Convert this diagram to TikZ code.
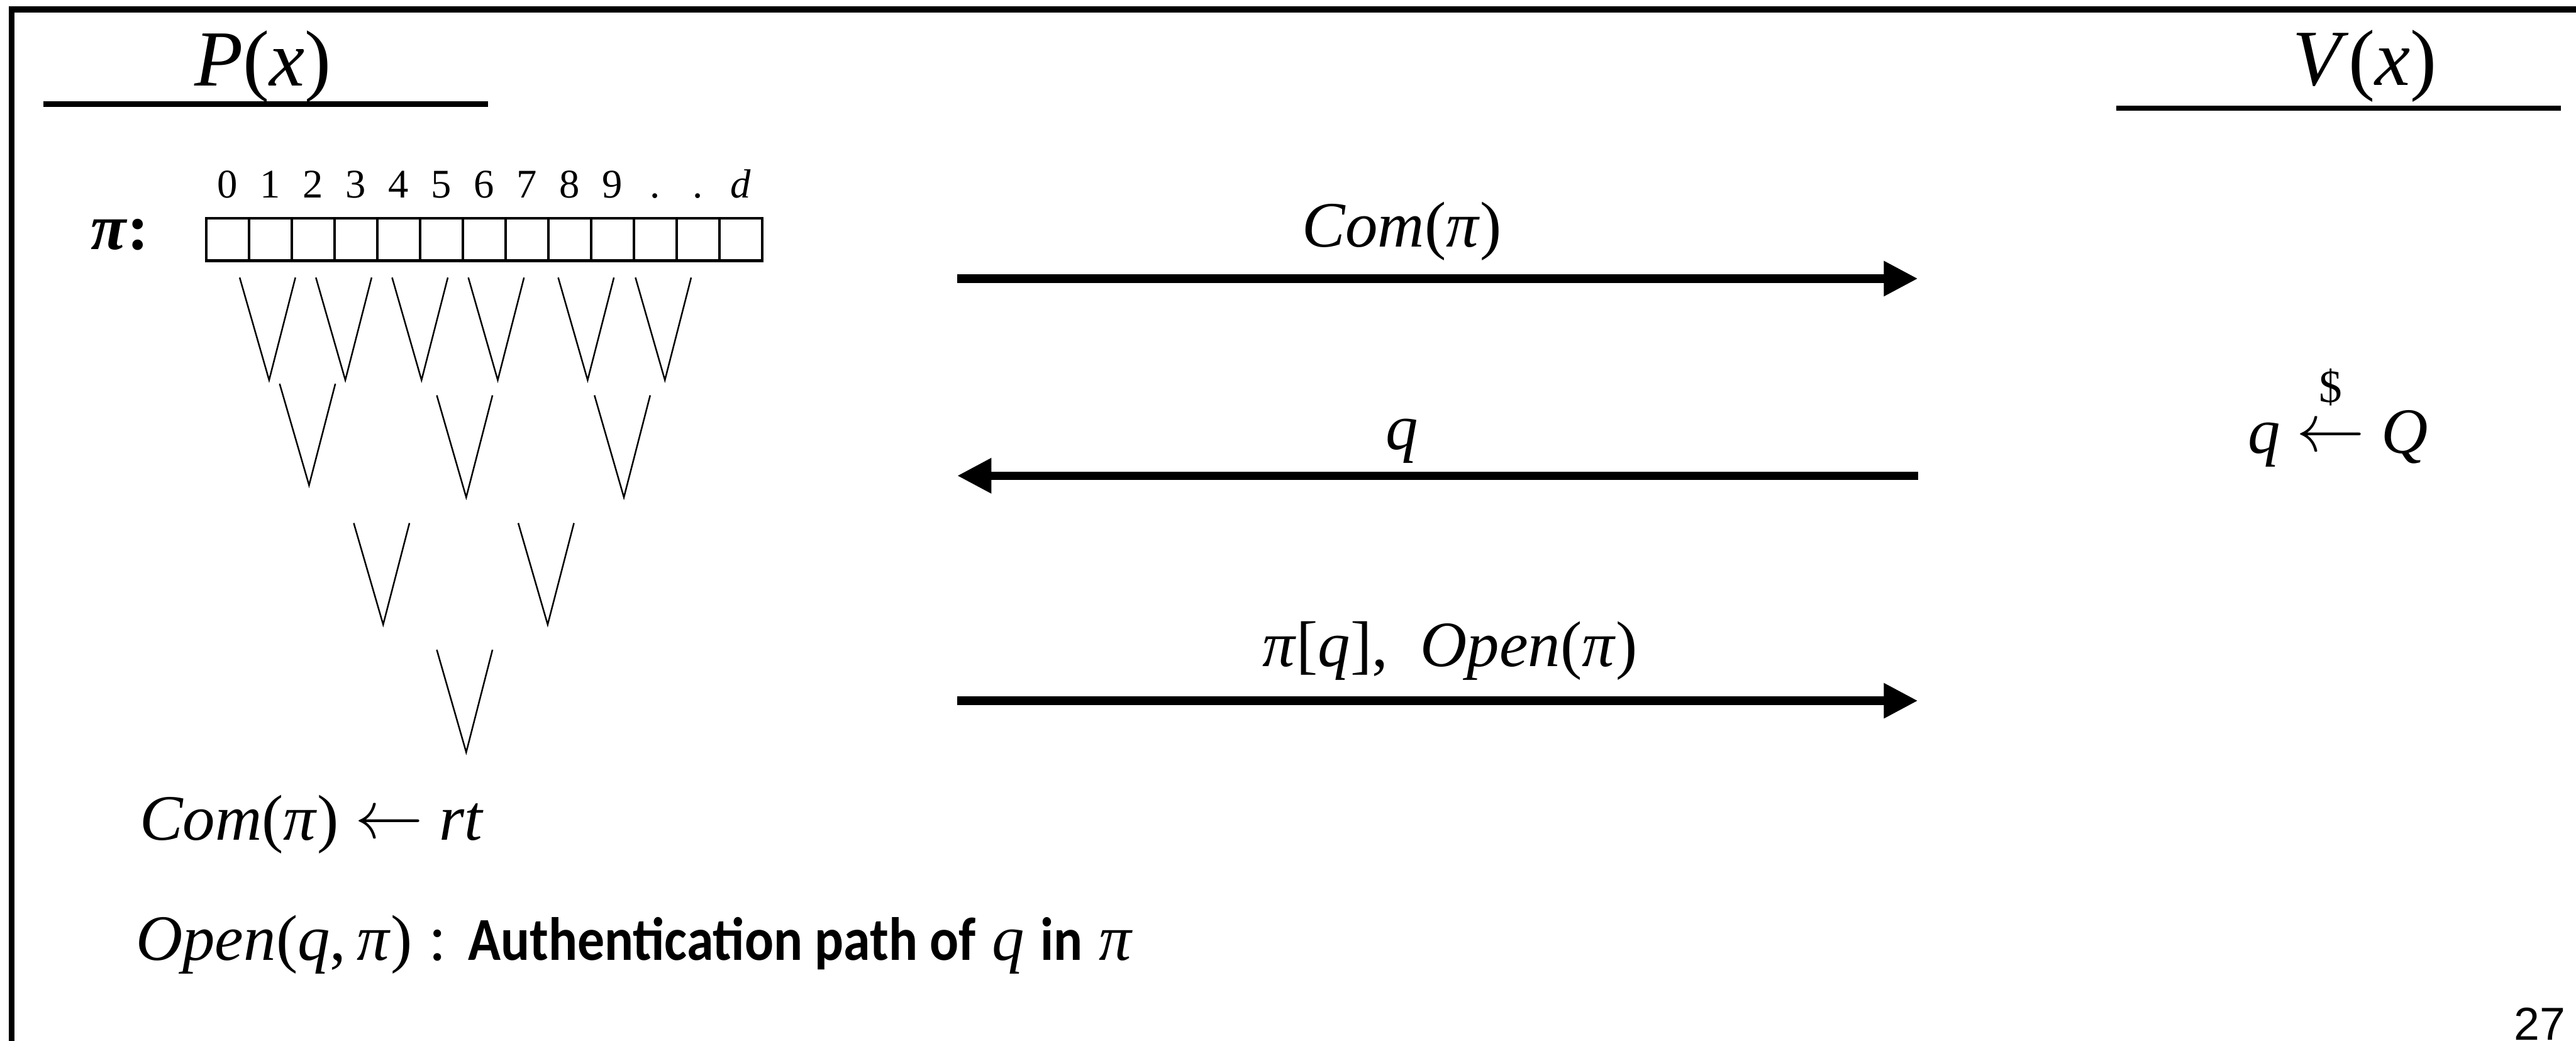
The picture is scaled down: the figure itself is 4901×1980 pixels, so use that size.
\documentclass[tikz,border=0pt]{standalone}
\usepackage{amsmath}
\usepackage{graphicx}
\usepackage{fontspec}
\setmainfont{Liberation Serif}
\newfontfamily\sansfam[FakeStretch=0.885]{Carlito}
\newfontfamily\pagefam{Liberation Sans}
\usepackage{tikz}
\usetikzlibrary{arrows.meta}
\newcommand{\mi}[1]{\textit{#1}}
\newcommand{\larr}{\raisebox{1pt}{\scalebox{3.7}{\fontsize{10}{12}\selectfont$\leftarrow$}}}

\begin{document}
\begin{tikzpicture}[x=0.01cm, y=-0.01cm,
  big/.style={inner sep=0pt, font=\fontsize{43}{50}\selectfont},
  txt/.style={inner sep=0pt, font=\fontsize{35}{42}\selectfont},
  idx/.style={inner sep=0pt, anchor=base, font=\fontsize{22}{26}\selectfont},
  cell/.style={draw, line width=1.4pt},
  rule/.style={line width=2.9pt},
  frame/.style={line width=3.2pt},
  vee/.style={line width=0.85pt},
  msg/.style={line width=4.5pt, -{Triangle[length=0.65cm, width=0.63cm]}},
  lbl/.style={txt, anchor=base}
]
  \useasboundingbox (0,0) rectangle (4901,1980);
  \draw[frame] (22,1980) -- (22,18) -- (4901,18);

  % prover and verifier
  \node[big, anchor=base] (prover)   at (500,163)  {\mi{P}(\mi{x})};
  \node[big, anchor=base] (verifier) at (4499,162) {\mi{V}(\mi{x})};
  \draw[rule] (82,198)   -- (929,198);
  \draw[rule] (4026,206) -- (4872,206);

  % the proof string and its tree
  \node[txt, anchor=base east] (pilab) at (284,475) {\textbf{\mi{π}:}};
  \foreach \i in {0,...,12}
    \draw[cell] ({392+81.4*\i},415) rectangle ++(81.4,81);
  \foreach \t [count=\i from 0] in {0,1,2,3,4,5,6,7,8,9,.,.,\mi{d}}
    \node[idx] (idx\i) at ({432.7+81.4*\i},376) {\t};
  \foreach \b/\t/\e in {512/528/723, 657/528/723, 802/528/723, 947/528/723,
                        1118/528/723, 1265/528/723, 588/730/923, 887/752/946,
                        1187/752/946, 729/995/1188, 1042/995/1188, 887/1236/1431}
    \draw[vee] ({\b-56},\t) -- (\b,\e) -- ({\b+50},\t);

  % messages
  \coordinate (pa) at (1821,530);  \coordinate (va) at (3649,530);
  \coordinate (pb) at (1821,905);  \coordinate (vb) at (3649,905);
  \coordinate (pc) at (1821,1333); \coordinate (vc) at (3649,1333);
  \draw[msg] (pa) -- node[lbl, pos=0.463, yshift=0.6cm] {\mi{Com}(\mi{π})} (va);
  \draw[msg] (vb) -- node[lbl, pos=0.537, yshift=0.5cm] {\mi{q}} (pb);
  \draw[msg] (pc) -- node[lbl, pos=0.513, yshift=0.65cm]
    {\mi{π}[\mi{q}],\ \ \mi{Open}(\mi{π})} (vc);

  \node[txt, anchor=base] (sample) at (4448,862)
    {\mi{q} $\overset{\raisebox{8pt}{\fontsize{25}{25}\selectfont\$}}{\larr}$ \mi{Q}};

  % notes
  \node[txt, anchor=base west] (commit) at (265,1598) {\mi{Com}(\mi{π}) \larr{} \mi{rt}};
  \node[txt, anchor=base west] (open) at (258,1827)
    {\mi{Open}(\mi{q},\,\mi{π}) : {\sansfam\bfseries\fontsize{33}{40}\selectfont Authentication path of}
     \mi{q} {\sansfam\bfseries\fontsize{33}{40}\selectfont in} \mi{π}};

  \node[anchor=base east, inner sep=0pt, font=\pagefam\fontsize{25}{30}\selectfont]
    (pagenum) at (4882,1978) {27};
\end{tikzpicture}
\end{document}
